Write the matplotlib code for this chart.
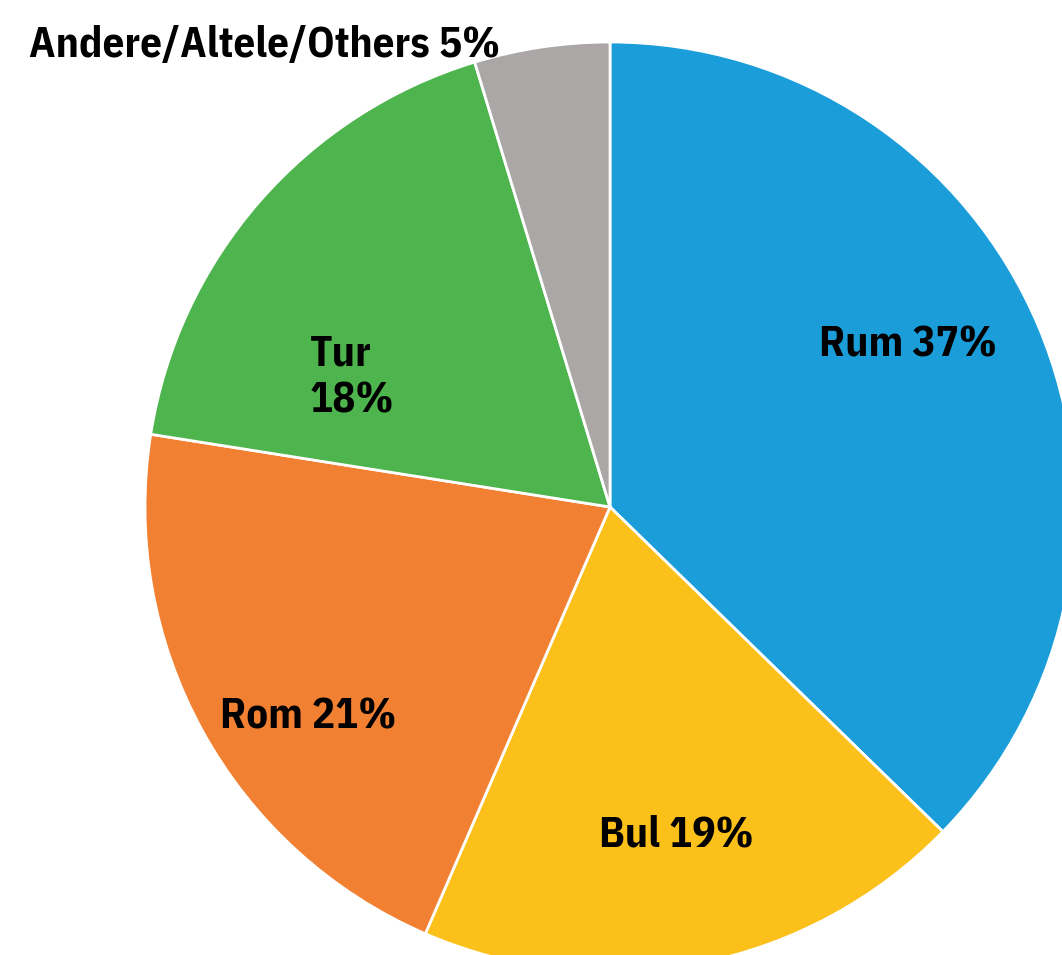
import matplotlib
matplotlib.use("Agg")
import matplotlib.pyplot as plt

# share of each group (labels show the rounded percentage)
labels = ["Rum", "Bul", "Rom", "Tur", "Andere/Altele/Others"]
shares = [37.3, 19.2, 21.0, 17.8, 4.7]
colors = ["#1B9DD9", "#FCC01A", "#F28032", "#4DB44E", "#ABA7A7"]

# label anchors (pie radius = 1) and alignment
label_xy = [(0.641, 0.348), (0.142, -0.706), (-0.649, -0.452),
            (-0.645, 0.279), (-0.237, 0.993)]
label_ha = ["center", "center", "center", "left", "right"]

family = ["IBM Plex Sans Condensed", "DejaVu Sans"]

fig = plt.figure(figsize=(10.62, 9.55), dpi=100)
ax = fig.add_axes([0, 0, 1, 1])
R = 465.0
cx, cy = 610.0, 507.0

wedges, _ = ax.pie(shares, colors=colors, startangle=90, counterclock=False,
                   radius=1.0, wedgeprops=dict(edgecolor="white", linewidth=2))
ax.set_xlim(-cx / R, (1062 - cx) / R)
ax.set_ylim((cy - 955) / R, cy / R)
ax.set_aspect("equal")
ax.axis("off")

for lab, v, (x, y), ha in zip(labels, shares, label_xy, label_ha):
    sep = "\n" if lab == "Tur" else " "
    ax.text(x, y, f"{lab}{sep}{v:.0f}%", ha=ha, va="center", fontsize=31,
            fontweight="bold", family=family, linespacing=1.2)

fig.savefig("out.png", dpi=100)
